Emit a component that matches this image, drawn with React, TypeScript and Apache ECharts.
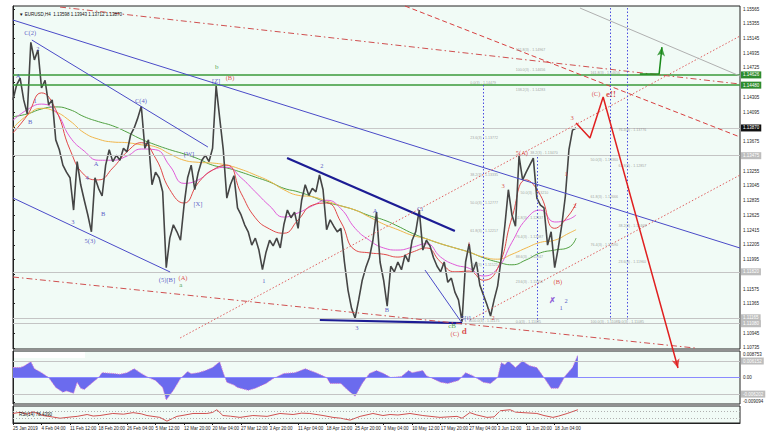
import React, { useEffect, useRef } from 'react';
import * as echarts from 'echarts';

// ---------- DATA ----------
const timeLabels = ['25 Jan 2019', '4 Feb 04:00', '11 Feb 12:00', '18 Feb 20:00', '26 Feb 04:00', '5 Mar 12:00', '12 Mar 20:00', '20 Mar 04:00', '27 Mar 12:00', '3 Apr 20:00', '11 Apr 04:00', '18 Apr 12:00', '25 Apr 20:00', '3 May 04:00', '10 May 12:00', '17 May 20:00', '27 May 04:00', '3 Jun 12:00', '11 Jun 20:00', '18 Jun 04:00'];
const timeBars = [0, 8, 16, 24, 32, 40, 48, 56, 64, 72, 80, 88, 96, 104, 112, 120, 128, 136, 144, 152];

const closes = [
  1.1427, 1.1448, 1.1458, 1.1427, 1.1407, 1.1509, 1.1484, 1.1498, 1.1444, 1.1455,
  1.1420, 1.1427, 1.1370, 1.1356, 1.1334, 1.1324, 1.1316, 1.1270, 1.1339, 1.1306,
  1.1284, 1.1263, 1.1239, 1.1316, 1.1301, 1.1290, 1.1334, 1.1356, 1.1339, 1.1348,
  1.1341, 1.1358, 1.1353, 1.1377, 1.1387, 1.1401, 1.1418, 1.1358, 1.1370, 1.1306,
  1.1324, 1.1316, 1.1296, 1.1188, 1.1230, 1.1249, 1.1239, 1.1227, 1.1277, 1.1316,
  1.1334, 1.1299, 1.1324, 1.1341, 1.1348, 1.1339, 1.1358, 1.1447, 1.1401, 1.1356,
  1.1287, 1.1306, 1.1319, 1.1273, 1.1263, 1.1249, 1.1239, 1.1220, 1.1230, 1.1213,
  1.1185, 1.1210, 1.1227, 1.1219, 1.1230, 1.1216, 1.1249, 1.1270, 1.1259, 1.1267,
  1.1244, 1.1284, 1.1306, 1.1291, 1.1301, 1.1296, 1.1320, 1.1299, 1.1242, 1.1256,
  1.1247, 1.1239, 1.1244, 1.1196, 1.1156, 1.1130, 1.1116, 1.1142, 1.1170, 1.1188,
  1.1202, 1.1227, 1.1267, 1.1196, 1.1170, 1.1133, 1.1190, 1.1182, 1.1196, 1.1185,
  1.1206, 1.1196, 1.1227, 1.1239, 1.1270, 1.1213, 1.1227, 1.1219, 1.1202, 1.1190,
  1.1182, 1.1196, 1.1167, 1.1173, 1.1153, 1.1142, 1.1111, 1.1196, 1.1222, 1.1182,
  1.1196, 1.1163, 1.1149, 1.1135, 1.1119, 1.1142, 1.1162, 1.1202, 1.1247, 1.1299,
  1.1263, 1.1247, 1.1347, 1.1313, 1.1324, 1.1334, 1.1344, 1.1287, 1.1277, 1.1273,
  1.1220, 1.1239, 1.1188, 1.1216, 1.1249, 1.1290, 1.1356, 1.1384, 1.1387,
];

const maIndex = [0, 4, 8, 12, 16, 20, 24, 28, 32, 36, 40, 44, 48, 52, 56, 60, 64, 68, 72, 76, 80, 84, 88, 92, 96, 100, 104, 108, 112, 116, 120, 124, 128, 132, 136, 140, 144, 148, 152, 156, 158];
const maRed = [1.1380, 1.1405, 1.1437, 1.1413, 1.1356, 1.1320, 1.1313, 1.1330, 1.1353, 1.1366, 1.1344, 1.1299, 1.1280, 1.1309, 1.1327, 1.1334, 1.1294, 1.1259, 1.1243, 1.1237, 1.1256, 1.1277, 1.1280, 1.1253, 1.1213, 1.1209, 1.1207, 1.1203, 1.1210, 1.1216, 1.1196, 1.1182, 1.1183, 1.1170, 1.1187, 1.1259, 1.1313, 1.1291, 1.1244, 1.1263, 1.1280];
const maMagenta = [1.1398, 1.1413, 1.1421, 1.1410, 1.1374, 1.1354, 1.1341, 1.1341, 1.1347, 1.1357, 1.1356, 1.1333, 1.1308, 1.1313, 1.1327, 1.1331, 1.1316, 1.1296, 1.1276, 1.1260, 1.1266, 1.1276, 1.1284, 1.1272, 1.1244, 1.1227, 1.1216, 1.1213, 1.1217, 1.1222, 1.1203, 1.1192, 1.1187, 1.1176, 1.1187, 1.1224, 1.1257, 1.1270, 1.1253, 1.1257, 1.1263];
const maOrange = [1.1387, 1.1405, 1.1415, 1.1410, 1.1397, 1.1380, 1.1371, 1.1367, 1.1366, 1.1363, 1.1360, 1.1350, 1.1341, 1.1338, 1.1337, 1.1334, 1.1328, 1.1320, 1.1311, 1.1299, 1.1291, 1.1289, 1.1283, 1.1276, 1.1270, 1.1260, 1.1250, 1.1242, 1.1234, 1.1229, 1.1222, 1.1216, 1.1210, 1.1203, 1.1200, 1.1207, 1.1216, 1.1224, 1.1227, 1.1237, 1.1242];
const maGreen = [1.1403, 1.1407, 1.1414, 1.1417, 1.1413, 1.1403, 1.1396, 1.1390, 1.1381, 1.1371, 1.1363, 1.1356, 1.1350, 1.1343, 1.1334, 1.1330, 1.1324, 1.1317, 1.1310, 1.1301, 1.1296, 1.1289, 1.1281, 1.1276, 1.1270, 1.1262, 1.1256, 1.1247, 1.1237, 1.1229, 1.1222, 1.1216, 1.1210, 1.1202, 1.1196, 1.1192, 1.1199, 1.1209, 1.1213, 1.1217, 1.1230];

const priceTicks = [1.10735, 1.10945, 1.11155, 1.11365, 1.11575, 1.11785, 1.11995, 1.12205, 1.12415, 1.12625, 1.12835, 1.13045, 1.13255, 1.13465, 1.13675, 1.13885, 1.14095, 1.14305, 1.14515, 1.14725, 1.14935, 1.15145, 1.15355, 1.15565];
// tick labels that are not covered by the price-level boxes
const priceTickLabels = [1.10735, 1.10945, 1.11365, 1.11575, 1.11995, 1.12205, 1.12415, 1.12625, 1.12835, 1.13045, 1.13255, 1.13675, 1.14095, 1.14305, 1.14725, 1.14935, 1.15145, 1.15355, 1.15565];
const macdTicks = [0.008753, 0, -0.009094];

const macdPoints: [number, number][] = [
  [0, 0.0037], [2, 0.0037], [3, 0.0042], [5, 0.0059], [6, 0.0033], [8, 0.0018], [10, 0], [12, -0.0037], [14, -0.0055], [15, -0.0050],
  [17, -0.0059], [18, -0.0018], [19, -0.0040], [20, -0.0045], [22, -0.0022], [24, 0], [25, 0.0018], [28, 0.0015], [30, 0.0012], [32, 0.0018],
  [34, 0.0033], [36, 0.0015], [38, 0], [40, -0.0011], [42, -0.0037], [43, -0.0084], [45, -0.0048], [47, -0.0004], [49, 0.0022], [50, 0.0014],
  [52, 0.0018], [54, 0.0026], [56, 0.0037], [58, 0.0059], [59, 0.0018], [60, -0.0018], [62, -0.0028], [63, -0.0037], [66, -0.0048], [68, -0.0040],
  [71, -0.0022], [73, -0.0004], [76, 0.0015], [79, 0.0018], [80, 0.0022], [82, 0.0033], [85, 0.0018], [88, 0], [89, -0.0022], [92, -0.0022],
  [94, -0.0048], [96, -0.0070], [98, -0.0022], [100, 0.0015], [102, 0.0026], [104, 0.0015], [106, 0], [109, 0.0004], [111, 0.0026], [112, 0.0018],
  [115, 0.0026], [116, 0.0007], [120, -0.0018], [122, -0.0022], [125, -0.0011], [127, 0.0018], [129, 0.0007], [132, -0.0018], [134, -0.0022], [136, 0],
  [137, 0.0055], [138, 0.0048], [139, 0.0062], [141, 0.0037], [143, 0.0062], [144, 0.0052], [145, 0.0044], [147, 0.0037], [149, 0], [151, -0.0040],
  [153, -0.0040], [155, 0.0007], [157, 0.0037], [158.5, 0.0084],
];

const rsiPoints: [number, number][] = [
  [0, 56], [2, 63], [4, 52], [5.6, 66], [8.4, 44], [11, 36], [13.2, 28], [16, 35], [18, 39], [20.8, 50],
  [22.5, 41], [24.4, 44], [28, 56], [31, 52], [33.7, 61], [36, 54], [37.6, 44], [41.2, 33], [43.2, 11], [46, 39],
  [48, 46], [50.5, 56], [54.4, 56], [56, 62], [57.2, 78], [58.9, 44], [61, 40], [63.7, 33], [67.3, 44], [71.3, 39],
  [74.9, 56], [78.6, 50], [81, 58], [83.3, 56], [87, 44], [89.8, 33], [92, 28], [94.6, 17], [97.4, 39], [101, 56],
  [103.8, 44], [105.8, 50], [108, 47], [111.4, 56], [115, 44], [119.8, 33], [124.6, 39], [126, 28], [128.2, 61], [130, 48],
  [133, 33], [135, 36], [136.7, 72], [139.5, 78], [141, 64], [143.1, 61], [147, 56], [149, 44], [151.5, 33], [153, 40],
  [155.5, 56], [158.5, 78],
];

const greenLevels = [1.14626, 1.1448];
const greyLevels = [1.13475, 1.1182, 1.11165, 1.1108];
const bidPrice = 1.1387;
const macdLevels = [0.006152, -0.006202];
const rsiLevels = [70, 30];

type Pt = [number, number];
const blueLines: [Pt, Pt][] = [
  [[0, 1.15408], [204, 1.12159]],
  [[5.3, 1.15123], [54.7, 1.13598]],
  [[0, 1.12872], [44.1, 1.11817]],
  [[115.6, 1.11846], [126, 1.1109]],
];
const navyLines: [Pt, Pt][] = [
  [[76.9, 1.13442], [124, 1.12401]],
  [[86.1, 1.11133], [126, 1.1109]],
];
const redDashDotLines: [Pt, Pt][] = [
  [[13.2, 1.15593], [204, 1.14496]],
  [[0, 1.11746], [191.4, 1.10734]],
];
const redDashedLines: [Pt, Pt][] = [[[110, 1.15608], [204, 1.13741]]];
const redDottedLines: [Pt, Pt][] = [
  [[46.9, 1.10877], [204, 1.1518]],
  [[128.2, 1.11133], [204, 1.13199]],
];
const greyLines: [Pt, Pt][] = [[[159.1, 1.15579], [204, 1.1461]]];
const verticalLines: [Pt, Pt][] = [
  [[131.9, 1.14482], [131.9, 1.11133]],
  [[147, 1.13456], [147, 1.11105]],
  [[167.5, 1.15579], [167.5, 1.11133]],
  [[172.3, 1.15579], [172.3, 1.11133]],
];
const redPath: Pt[] = [[158, 1.1394], [161.9, 1.13727], [165.6, 1.14311], [186.6, 1.10449]];
const greenPath: Pt[] = [[175.9, 1.14638], [181.3, 1.14638], [182.1, 1.15023]];

type Lbl = [number, number, string];
const blueLabels: Lbl[] = [
  [1.4, 1.14624, 'A'], [4.8, 1.13955, 'B'], [4.8, 1.15237, 'C(2)'], [7.0, 1.15009, '2'], [6.2, 1.14268, '1'],
  [16.8, 1.1253, '3'], [20.8, 1.13157, '4'], [21.6, 1.12273, '5(3)'], [23.3, 1.1337, 'A'], [25.3, 1.12658, 'B'],
  [35.9, 1.14268, 'C(4)'], [49.4, 1.13513, '[W]'], [51.9, 1.128, '[X]'], [57.0, 1.14553, '[Z]'], [43.2, 1.11717, '(5)[B]'],
  [70.4, 1.11703, '1'], [86.7, 1.13328, '2'], [96.5, 1.11033, '3'], [101.6, 1.127, 'A'], [104.9, 1.11276, 'B'],
  [114.2, 1.12729, 'Ci'], [127.1, 1.11162, '5[i]'], [155.2, 1.11418, '2'], [153.8, 1.11318, '1'],
];
const redLabels: Lbl[] = [
  [60.9, 1.14582, '(B)'], [47.7, 1.11732, '(A)'], [124.0, 1.10934, '(C)'], [128.0, 1.1223, '1'], [134.7, 1.11176, '2'],
  [137.5, 1.13057, '3'], [142.8, 1.13527, '5(A)'], [155.2, 1.13228, '1'], [157.7, 1.12772, '2'], [152.9, 1.11689, '(B)'],
  [156.9, 1.14012, '3'], [163.6, 1.14354, '(C)'],
];
const redBoldLabels: Lbl[] = [[126.6, 1.10976, 'd'], [167.8, 1.14354, 'e!!']];
const greenLabels: Lbl[] = [[57.2, 1.14738, 'b'], [47.1, 1.11632, 'a'], [123.2, 1.11048, 'cB']];
const purpleLabels: Lbl[] = [[151.5, 1.11418, '✗']];
const fibLabels: Lbl[] = [
  [128.2, 1.1451, '0.0(3) - 1.14479'], [128.2, 1.13727, '23.6(3) - 1.13772'], [128.2, 1.132, '38.2(3) - 1.13335'],
  [128.2, 1.128, '50.0(3) - 1.12777'], [128.2, 1.12401, '61.8(3) - 1.12217'], [128.2, 1.11917, '76.4(3) - 1.11525'],
  [128.2, 1.11119, '100.0(3) - 1.11175'],
  [140.9, 1.1498, '161.8(3) - 1.14967'], [140.9, 1.14696, '100.0(3) - 1.14656'], [140.9, 1.14411, '138.2(3) - 1.14283'],
  [145.0, 1.13513, '38.2(3) - 1.13470'], [142.3, 1.12943, '50.0(3) - 1.13210'], [140.9, 1.12587, '61.8(3) - 1.12637'],
  [140.9, 1.12316, '76.4(3) - 1.12087'], [140.9, 1.12031, '88.6(3) - 1.11947'], [140.9, 1.11675, '23.6(3) - 1.11656'],
  [140.9, 1.11105, '0.0(3) - 1.11085'],
  [161.9, 1.14653, '161.8(3) - 1.14656'], [169.8, 1.13841, '76.4(3) - 1.13776'], [161.9, 1.13413, '50.0(3) - 1.13360'],
  [169.8, 1.13328, '61.8(3) - 1.12857'], [161.9, 1.12886, '61.8(3) - 1.12666'], [169.8, 1.12473, '38.2(3) - 1.12468'],
  [161.9, 1.12202, '76.4(3) - 1.12090'], [169.8, 1.1196, '23.6(3) - 1.11960'], [161.9, 1.11105, '100.0(3) - 1.11085'],
  [169.8, 1.11105, '0.0(3) - 1.11085'],
];

const TITLE = '▼ EURUSD,H4  1.13598 1.13943 1.13712 1.13870';
const RSI_TITLE = 'RSI(14) 78.4390';

// ---------- CHART ----------
const SANS = 'Liberation Sans';
const SERIF = 'Liberation Serif';
const XMAX = 204;

function segs(lines: [Pt, Pt][], style: any) {
  return lines.map(([a, b]) => [{ coord: a, lineStyle: style }, { coord: b }]);
}
function labelSeries(items: Lbl[], color: string, fontSize: number, opts: any = {}) {
  return {
    type: 'scatter', xAxisIndex: 0, yAxisIndex: 0, symbolSize: 1, silent: true, clip: false, z: 6,
    itemStyle: { color: 'rgba(0,0,0,0)' },
    data: items.map(([x, y, t]) => ({ value: [x, y], name: t })),
    label: {
      show: true, position: opts.position || 'inside', distance: 0, formatter: (p: any) => p.name,
      color, fontSize, fontFamily: opts.fontFamily || SERIF, fontWeight: opts.bold ? 'bold' : 'normal',
    },
  };
}
// a horizontal price level, drawn between the two x-axis ends, with a box label on the price scale
function levelLine(v: number, lineColor: string, boxColor: string, textColor: string, width = 1, digits = 5) {
  return [
    {
      coord: [0, v],
      lineStyle: { color: lineColor, width, type: 'solid' },
      label: {
        show: true, position: 'end', distance: 1, formatter: () => v.toFixed(digits),
        backgroundColor: boxColor, color: textColor, fontSize: 4.5, fontFamily: SANS, padding: [1, 2, 1, 2],
      },
    },
    { coord: [XMAX, v] },
  ];
}
// polyline with an arrow head on its last point (the head is turned along the last segment in pixel space)
function arrowSeries(path: Pt[], color: string, chartRef: () => any) {
  return [
    {
      type: 'line', xAxisIndex: 0, yAxisIndex: 0, symbol: 'none', silent: true, clip: false, z: 7,
      lineStyle: { color, width: 1.5 }, data: path,
    },
    {
      type: 'scatter', xAxisIndex: 0, yAxisIndex: 0, silent: true, clip: false, z: 7,
      symbol: 'arrow', symbolSize: [6, 9], itemStyle: { color },
      symbolRotate: () => {
        const c = chartRef();
        if (!c) return 180;
        const a = c.convertToPixel({ gridIndex: 0 }, path[path.length - 2]);
        const b = c.convertToPixel({ gridIndex: 0 }, path[path.length - 1]);
        const ang = (Math.atan2(b[0] - a[0], -(b[1] - a[1])) * 180) / Math.PI;
        return -ang;
      },
      data: [path[path.length - 1]],
    },
  ];
}

export default function App() {
  const ref = useRef<HTMLDivElement>(null);
  useEffect(() => {
    if (!ref.current) return;
    const chart = echarts.init(ref.current, null, { renderer: 'svg' });
    let ready = false;
    const getChart = () => (ready ? chart : null);
    const gridBase = { left: 13, width: 727, show: true, backgroundColor: '#f1fbf6', borderColor: '#222', borderWidth: 1 };
    const hiddenX = (g: number) => ({ type: 'value', gridIndex: g, min: 0, max: XMAX, show: false, splitLine: { show: false } });
    const maSeries = (vals: number[], color: string) => ({
      type: 'line', xAxisIndex: 0, yAxisIndex: 0, symbol: 'none', smooth: true, silent: true,
      lineStyle: { color, width: 1 }, data: maIndex.map((i, k) => [i, vals[k]]), z: 3,
    });
    const build = (): any => ({
      animation: false,
      backgroundColor: '#ffffff',
      title: [
        { text: TITLE, left: 14, top: 7, textStyle: { fontSize: 4.5, fontWeight: 'normal', color: '#111', fontFamily: SANS } },
        { text: RSI_TITLE, left: 14, top: 407, textStyle: { fontSize: 4.5, fontWeight: 'normal', color: '#111', fontFamily: SANS } },
      ],
      grid: [
        { ...gridBase, top: 6, height: 343 },
        { ...gridBase, top: 351, height: 53 },
        { ...gridBase, top: 406, height: 17 },
      ],
      xAxis: [
        hiddenX(0),
        hiddenX(1),
        {
          type: 'value', gridIndex: 2, min: 0, max: XMAX, splitLine: { show: false },
          axisLine: { show: true, lineStyle: { color: '#222' } },
          axisTick: { show: true, length: 2, customValues: timeBars, lineStyle: { color: '#222' } },
          axisLabel: {
            customValues: timeBars, align: 'left', margin: 3, fontSize: 4.5, color: '#222', fontFamily: SANS,
            formatter: (v: number) => timeLabels[timeBars.indexOf(Math.round(v))] || '',
          },
        },
      ],
      yAxis: [
        {
          type: 'value', gridIndex: 0, position: 'right', min: 1.1072, max: 1.15608, splitLine: { show: false },
          axisLine: { show: true, lineStyle: { color: '#222' } },
          axisTick: { show: true, length: 2, customValues: priceTicks, lineStyle: { color: '#222' } },
          axisLabel: { customValues: priceTickLabels, formatter: (v: number) => v.toFixed(5), fontSize: 4.5, color: '#222', margin: 3, fontFamily: SANS },
        },
        {
          type: 'value', gridIndex: 1, position: 'right', min: -0.0099, max: 0.0099, splitLine: { show: false },
          axisLine: { show: true, lineStyle: { color: '#222' } },
          axisTick: { show: true, length: 2, customValues: macdTicks, lineStyle: { color: '#222' } },
          axisLabel: { customValues: macdTicks, formatter: (v: number) => (v === 0 ? '0.00' : v.toFixed(6)), fontSize: 4.5, color: '#222', margin: 3, fontFamily: SANS },
        },
        {
          type: 'value', gridIndex: 2, position: 'right', min: 0, max: 100, splitLine: { show: false },
          axisLine: { show: true, lineStyle: { color: '#222' } }, axisTick: { show: false }, axisLabel: { show: false },
        },
      ],
      graphic: [
        { type: 'rect', shape: { x: 14, y: 352, width: 71, height: 6 }, style: { fill: '#ffffff' }, z: 10 },
      ],
      series: [
        // horizontal levels
        {
          type: 'line', xAxisIndex: 0, yAxisIndex: 0, data: [], silent: true, z: 2,
          markLine: {
            silent: true, symbol: 'none', animation: false,
            data: [
              ...greyLevels.map((v) => levelLine(v, '#c4c4c4', '#bdbdbd', '#ffffff')),
              levelLine(bidPrice, '#c8c8c8', '#111111', '#ffffff'),
              ...greenLevels.map((v) => levelLine(v, '#3a9a3a', '#2e8b2e', '#ffffff', 1.5)),
            ],
          },
        },
        // moving averages
        maSeries(maGreen, '#4f9f3f'),
        maSeries(maOrange, '#f0b54a'),
        maSeries(maMagenta, '#e05ad8'),
        maSeries(maRed, '#e04848'),
        // price
        {
          type: 'line', xAxisIndex: 0, yAxisIndex: 0, symbol: 'none', silent: true, z: 4,
          lineStyle: { color: '#454545', width: 1.6 },
          data: closes.map((c, i) => [i, c]),
        },
        // trend lines
        {
          type: 'line', xAxisIndex: 0, yAxisIndex: 0, data: [], silent: true, clip: false, z: 5,
          markLine: {
            silent: true, symbol: 'none', animation: false, label: { show: false },
            data: [
              ...segs(blueLines, { color: '#4a4ac8', width: 1, type: 'solid' }),
              ...segs(navyLines, { color: '#1c1c94', width: 2.2, type: 'solid' }),
              ...segs(redDashDotLines, { color: '#d05050', width: 1, type: [6, 3, 1.5, 3] }),
              ...segs(redDashedLines, { color: '#d84040', width: 1, type: [5, 3] }),
              ...segs(redDottedLines, { color: '#e06060', width: 1, type: [1.5, 2] }),
              ...segs(greyLines, { color: '#b0b0b0', width: 1, type: 'solid' }),
              ...segs(verticalLines, { color: '#4a4ae0', width: 1, type: [1.5, 2] }),
            ],
          },
        },
        ...arrowSeries(redPath, '#e02020', getChart),
        ...arrowSeries(greenPath, '#1a8a1a', getChart),
        // labels
        labelSeries(fibLabels, '#8a8a8a', 3.6, { position: 'right', fontFamily: SANS }),
        labelSeries(blueLabels, '#3232b8', 6.5),
        labelSeries(redLabels, '#d42020', 6.5),
        labelSeries(redBoldLabels, '#d42020', 9, { bold: true }),
        labelSeries(greenLabels, '#1f8a1f', 7),
        labelSeries(purpleLabels, '#7a3ad0', 8, { bold: true }),
        // MACD-style histogram
        {
          type: 'line', xAxisIndex: 1, yAxisIndex: 1, symbol: 'none', silent: true,
          data: macdPoints,
          lineStyle: { color: '#d878d0', width: 1, type: 'dotted' },
          areaStyle: { color: '#6b6bee', opacity: 1 },
          markLine: {
            silent: true, symbol: 'none', animation: false,
            data: [
              [{ coord: [0, 0], lineStyle: { color: '#8a8aff', width: 1, type: 'solid' }, label: { show: false } }, { coord: [XMAX, 0] }],
              ...macdLevels.map((v) => levelLine(v, '#c4c4c4', '#bdbdbd', '#ffffff', 1, 6)),
            ],
          },
        },
        // RSI
        {
          type: 'line', xAxisIndex: 2, yAxisIndex: 2, symbol: 'none', silent: true,
          data: rsiPoints, lineStyle: { color: '#d05050', width: 1 },
          markLine: {
            silent: true, symbol: 'none', animation: false, label: { show: false },
            data: rsiLevels.map((v) => [{ coord: [0, v], lineStyle: { color: '#b0b0b0', width: 1, type: [1, 2] } }, { coord: [XMAX, v] }]),
          },
        },
      ],
    });
    chart.setOption(build());
    ready = true;
    chart.setOption(build(), { notMerge: true });
    return () => chart.dispose();
  }, []);
  return <div ref={ref} style={{ position: 'absolute', left: 0, top: 0, width: 781, height: 445 }} />;
}
